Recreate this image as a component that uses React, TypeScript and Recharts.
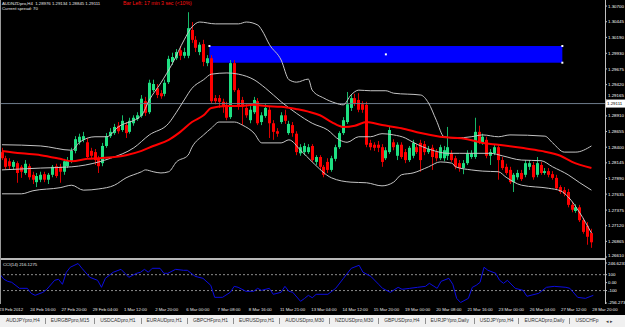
import React from 'react';
import { ComposedChart, Bar, Line, XAxis, YAxis, ReferenceArea, ReferenceLine } from 'recharts';

const FONT = '"Liberation Sans", Arial, sans-serif';
const SLOTS = 156;

const timeLabels = [
  '23 Feb 2012', '24 Feb 16:00', '27 Feb 20:00', '29 Feb 04:00', '1 Mar 12:00', '2 Mar 20:00',
  '6 Mar 00:00', '7 Mar 08:00', '8 Mar 16:00', '11 Mar 21:00', '13 Mar 04:00', '14 Mar 12:00',
  '15 Mar 20:00', '19 Mar 00:00', '20 Mar 08:00', '21 Mar 16:00', '23 Mar 00:00', '26 Mar 04:00',
  '27 Mar 12:00', '28 Mar 20:00',
];

const opens = [
  1.2832, 1.2822, 1.2817, 1.2808, 1.2814, 1.2808, 1.2798, 1.2809, 1.2795, 1.2783,
  1.2787, 1.2796, 1.2787, 1.2795, 1.2809, 1.2808, 1.2800, 1.2809, 1.2817, 1.2834,
  1.2848, 1.2852, 1.2848, 1.2834, 1.2832, 1.2821, 1.2814, 1.2842, 1.2858, 1.2863,
  1.2875, 1.2868, 1.2876, 1.2865, 1.2879, 1.2886, 1.2891, 1.2915, 1.2897, 1.2933,
  1.2936, 1.2928, 1.2927, 1.2946, 1.2979, 1.2985, 1.2998, 1.2989, 1.2989, 1.3031,
  1.3015, 1.2995, 1.3008, 1.2977, 1.2985, 1.2920, 1.2920, 1.2914, 1.2909, 1.2889,
  1.2977, 1.2933, 1.2917, 1.2904, 1.2884, 1.2897, 1.2915, 1.2881, 1.2891, 1.2901,
  1.2879, 1.2866, 1.2881, 1.2892, 1.2863, 1.2876, 1.2862, 1.2830, 1.2832, 1.2832,
  1.2842, 1.2816, 1.2824, 1.2808, 1.2816, 1.2803, 1.2821, 1.2840, 1.2863, 1.2881,
  1.2904, 1.2920, 1.2917, 1.2910, 1.2909, 1.2847, 1.2844, 1.2844, 1.2840, 1.2822,
  1.2832, 1.2848, 1.2826, 1.2844, 1.2832, 1.2819, 1.2826, 1.2840, 1.2847, 1.2845,
  1.2832, 1.2839, 1.2832, 1.2822, 1.2822, 1.2826, 1.2830, 1.2822, 1.2814, 1.2806,
  1.2814, 1.2824, 1.2824, 1.2865, 1.2847, 1.2852, 1.2826, 1.2830, 1.2840, 1.2819,
  1.2808, 1.2803, 1.2783, 1.2791, 1.2798, 1.2795, 1.2808, 1.2811, 1.2795, 1.2811,
  1.2798, 1.2801, 1.2796, 1.2790, 1.2775, 1.2770, 1.2767, 1.2746, 1.2736, 1.2742,
  1.2721, 1.2712, 1.2700,
];

const highs = [
  1.2839, 1.2826, 1.2822, 1.2819, 1.2817, 1.2811, 1.2819, 1.2813, 1.2800, 1.2798,
  1.2800, 1.2800, 1.2798, 1.2811, 1.2813, 1.2813, 1.2821, 1.2824, 1.2839, 1.2858,
  1.2862, 1.2865, 1.2855, 1.2839, 1.2837, 1.2826, 1.2847, 1.2863, 1.2871, 1.2878,
  1.2881, 1.2892, 1.2881, 1.2888, 1.2892, 1.2897, 1.2925, 1.2922, 1.2950, 1.2950,
  1.2943, 1.2933, 1.2950, 1.2989, 1.2994, 1.3000, 1.3005, 1.3002, 1.3060, 1.3044,
  1.3021, 1.3011, 1.3015, 1.2990, 1.2990, 1.2925, 1.2925, 1.2919, 1.2914, 1.2982,
  1.2982, 1.2936, 1.2922, 1.2910, 1.2907, 1.2922, 1.2920, 1.2897, 1.2910, 1.2906,
  1.2884, 1.2871, 1.2897, 1.2901, 1.2883, 1.2881, 1.2866, 1.2845, 1.2847, 1.2845,
  1.2845, 1.2827, 1.2827, 1.2811, 1.2822, 1.2826, 1.2844, 1.2866, 1.2889, 1.2930,
  1.2925, 1.2927, 1.2928, 1.2915, 1.2914, 1.2852, 1.2848, 1.2850, 1.2845, 1.2840,
  1.2873, 1.2853, 1.2848, 1.2848, 1.2837, 1.2842, 1.2852, 1.2845, 1.2852, 1.2850,
  1.2842, 1.2844, 1.2837, 1.2844, 1.2842, 1.2873, 1.2835, 1.2826, 1.2819, 1.2819,
  1.2835, 1.2835, 1.2888, 1.2875, 1.2862, 1.2857, 1.2837, 1.2845, 1.2844, 1.2824,
  1.2813, 1.2808, 1.2798, 1.2803, 1.2803, 1.2819, 1.2819, 1.2816, 1.2824, 1.2816,
  1.2806, 1.2806, 1.2801, 1.2795, 1.2778, 1.2775, 1.2772, 1.2751, 1.2747, 1.2746,
  1.2725, 1.2718, 1.2707,
];

const lows = [
  1.2819, 1.2804, 1.2803, 1.2803, 1.2782, 1.2790, 1.2795, 1.2787, 1.2780, 1.2775,
  1.2783, 1.2783, 1.2780, 1.2791, 1.2790, 1.2782, 1.2795, 1.2806, 1.2814, 1.2830,
  1.2844, 1.2848, 1.2821, 1.2822, 1.2811, 1.2798, 1.2809, 1.2839, 1.2855, 1.2860,
  1.2862, 1.2865, 1.2855, 1.2862, 1.2875, 1.2883, 1.2888, 1.2891, 1.2894, 1.2930,
  1.2920, 1.2919, 1.2923, 1.2943, 1.2974, 1.2982, 1.2982, 1.2985, 1.2985, 1.3010,
  1.2995, 1.2990, 1.2972, 1.2972, 1.2912, 1.2910, 1.2904, 1.2896, 1.2884, 1.2886,
  1.2930, 1.2901, 1.2876, 1.2888, 1.2879, 1.2894, 1.2876, 1.2876, 1.2888, 1.2855,
  1.2852, 1.2857, 1.2878, 1.2878, 1.2860, 1.2857, 1.2827, 1.2826, 1.2827, 1.2829,
  1.2816, 1.2811, 1.2803, 1.2791, 1.2798, 1.2800, 1.2817, 1.2837, 1.2860, 1.2878,
  1.2899, 1.2907, 1.2897, 1.2896, 1.2840, 1.2835, 1.2834, 1.2832, 1.2808, 1.2819,
  1.2829, 1.2835, 1.2819, 1.2821, 1.2814, 1.2816, 1.2822, 1.2829, 1.2800, 1.2827,
  1.2829, 1.2803, 1.2817, 1.2819, 1.2817, 1.2819, 1.2816, 1.2804, 1.2800, 1.2796,
  1.2811, 1.2821, 1.2821, 1.2845, 1.2844, 1.2822, 1.2811, 1.2827, 1.2787, 1.2803,
  1.2795, 1.2780, 1.2767, 1.2787, 1.2785, 1.2791, 1.2803, 1.2787, 1.2791, 1.2795,
  1.2795, 1.2791, 1.2787, 1.2770, 1.2764, 1.2760, 1.2742, 1.2734, 1.2733, 1.2718,
  1.2699, 1.2681, 1.2676,
];

const closes = [
  1.2822, 1.2808, 1.2809, 1.2816, 1.2798, 1.2800, 1.2813, 1.2791, 1.2787, 1.2793,
  1.2795, 1.2787, 1.2795, 1.2808, 1.2793, 1.2800, 1.2817, 1.2819, 1.2834, 1.2853,
  1.2857, 1.2858, 1.2824, 1.2826, 1.2819, 1.2809, 1.2842, 1.2858, 1.2865, 1.2873,
  1.2866, 1.2883, 1.2863, 1.2883, 1.2888, 1.2892, 1.2919, 1.2896, 1.2945, 1.2943,
  1.2925, 1.2923, 1.2945, 1.2984, 1.2987, 1.2995, 1.2989, 1.2995, 1.3034, 1.3015,
  1.3002, 1.3007, 1.2979, 1.2985, 1.2915, 1.2915, 1.2914, 1.2906, 1.2888, 1.2977,
  1.2933, 1.2906, 1.2906, 1.2892, 1.2901, 1.2917, 1.2879, 1.2892, 1.2904, 1.2879,
  1.2865, 1.2862, 1.2892, 1.2883, 1.2878, 1.2863, 1.2832, 1.2840, 1.2842, 1.2840,
  1.2819, 1.2824, 1.2808, 1.2795, 1.2803, 1.2822, 1.2840, 1.2863, 1.2884, 1.2910,
  1.2920, 1.2912, 1.2901, 1.2901, 1.2844, 1.2840, 1.2839, 1.2839, 1.2816, 1.2835,
  1.2868, 1.2840, 1.2844, 1.2824, 1.2819, 1.2839, 1.2847, 1.2832, 1.2819, 1.2832,
  1.2837, 1.2824, 1.2822, 1.2840, 1.2835, 1.2840, 1.2819, 1.2808, 1.2806, 1.2814,
  1.2830, 1.2830, 1.2865, 1.2848, 1.2857, 1.2826, 1.2832, 1.2840, 1.2819, 1.2806,
  1.2798, 1.2783, 1.2795, 1.2798, 1.2788, 1.2814, 1.2814, 1.2791, 1.2814, 1.2798,
  1.2801, 1.2795, 1.2790, 1.2773, 1.2767, 1.2764, 1.2746, 1.2738, 1.2742, 1.2721,
  1.2702, 1.2694, 1.2685,
];

// Bollinger bands and moving average, read at selected bars: [bar index, price]
const upperBand: [number, number][] = [
  [0, 1.2844], [10, 1.2842], [18, 1.2835], [20, 1.2848], [24, 1.2857], [27, 1.2857], [30, 1.2873],
  [36, 1.2892], [38, 1.2917], [41, 1.2945], [44, 1.2977], [47, 1.3015], [49, 1.3036], [51, 1.3044],
  [55, 1.3041], [61, 1.3041], [63, 1.3044], [66, 1.3039], [67, 1.3031], [69, 1.3007], [72, 1.2982],
  [74, 1.2950], [76, 1.2946], [79, 1.2951], [80, 1.2933], [83, 1.2920], [86, 1.2912], [88, 1.2909],
  [90, 1.2925], [92, 1.2933], [95, 1.2932], [99, 1.2932], [101, 1.2928], [108, 1.2925], [110, 1.2912],
  [112, 1.2884], [114, 1.2857], [117, 1.2855], [121, 1.2857], [124, 1.2860], [128, 1.2857],
  [131, 1.2860], [140, 1.2858], [142, 1.2847], [145, 1.2832], [148, 1.2832], [152, 1.2842],
];
const middleBand: [number, number][] = [
  [0, 1.2803], [10, 1.2806], [18, 1.2808], [25, 1.2816], [28, 1.2822], [34, 1.2839], [38, 1.2860],
  [43, 1.2879], [45, 1.2897], [47, 1.2917], [49, 1.2936], [52, 1.2950], [54, 1.2959], [58, 1.2961],
  [61, 1.2959], [65, 1.2950], [68, 1.2936], [72, 1.2914], [76, 1.2895], [80, 1.2879], [84, 1.2868],
  [87, 1.2852], [89, 1.2848], [92, 1.2857], [95, 1.2857], [98, 1.2862], [101, 1.2860], [104, 1.2855],
  [106, 1.2848], [111, 1.2835], [115, 1.2830], [118, 1.2830], [122, 1.2830], [126, 1.2830],
  [129, 1.2826], [134, 1.2819], [139, 1.2818], [142, 1.2808], [146, 1.2795], [149, 1.2782], [152, 1.2770],
];
const lowerBand: [number, number][] = [
  [0, 1.2764], [5, 1.2764], [8, 1.2769], [15, 1.2774], [18, 1.2778], [21, 1.2770], [25, 1.2772],
  [29, 1.2778], [32, 1.2790], [36, 1.2800], [37, 1.2803], [39, 1.2800], [41, 1.2798], [43, 1.2800],
  [45, 1.2816], [48, 1.2827], [49, 1.2840], [52, 1.2860], [54, 1.2871], [56, 1.2881], [60, 1.2881],
  [62, 1.2876], [65, 1.2863], [67, 1.2847], [72, 1.2847], [74, 1.2852], [77, 1.2835], [80, 1.2816],
  [85, 1.2790], [90, 1.2783], [94, 1.2782], [98, 1.2777], [101, 1.2783], [103, 1.2795], [106, 1.2798],
  [110, 1.2808], [113, 1.2816], [116, 1.2814], [117, 1.2808], [121, 1.2803], [124, 1.2801],
  [128, 1.2800], [130, 1.2791], [134, 1.2778], [141, 1.2773], [144, 1.2769], [146, 1.2759],
  [149, 1.2733], [152, 1.2700],
];
const maLine: [number, number][] = [
  [0, 1.2834], [5, 1.2830], [10, 1.2827], [15, 1.2821], [18, 1.2817], [22, 1.2821], [25, 1.2822],
  [29, 1.2824], [32, 1.2827], [36, 1.2834], [39, 1.2842], [43, 1.2852], [46, 1.2865], [49, 1.2881],
  [52, 1.2892], [54, 1.2904], [58, 1.2907], [61, 1.2907], [65, 1.2909], [68, 1.2907], [72, 1.2906],
  [76, 1.2902], [79, 1.2898], [82, 1.2892], [85, 1.2881], [88, 1.2873], [91, 1.2875], [94, 1.2881],
  [98, 1.2876], [103, 1.2871], [108, 1.2863], [113, 1.2857], [120, 1.2853], [124, 1.2847],
  [128, 1.2844], [134, 1.2839], [139, 1.2834], [144, 1.2826], [147, 1.2816], [152, 1.2806],
];
// CCI(14) read at selected bars: [bar index, value]
const cciLine: [number, number][] = [
  [0, 104], [1, 42], [2, 16], [3, 4], [5, -72], [7, -72], [8, -135], [9, -160], [11, -122], [12, -84],
  [14, 29], [15, 42], [16, -21], [17, 130], [18, 193], [20, 240], [21, 180], [23, 67], [25, 29],
  [26, -59], [27, 54], [29, 130], [31, 167], [33, 67], [35, 117], [36, 130], [37, 167], [38, 130],
  [39, 180], [41, 180], [42, 117], [43, 117], [45, 167], [47, 155], [48, 155], [50, 79], [52, 54],
  [54, -34], [55, -185], [57, -185], [59, -122], [60, -47], [61, -59], [63, -109], [65, -109],
  [66, -72], [67, -97], [69, -72], [70, -147], [72, -122], [73, -47], [74, -109], [75, -122],
  [77, -235], [78, -200], [79, -160], [80, -190], [81, -147], [84, -147], [86, -72], [88, 54],
  [90, 180], [92, 218], [93, 130], [95, 79], [97, -21], [98, -72], [100, -122], [102, -59],
  [103, -84], [105, -72], [107, -59], [109, -47], [110, -9], [112, -72], [113, 16], [115, 54],
  [116, -21], [117, -198], [118, -250], [120, -198], [121, -59], [122, -34], [123, 4], [124, 193],
  [125, 155], [127, 117], [128, 29], [129, -9], [130, 29], [132, -72], [134, -97], [135, -172],
  [138, -135], [140, -59], [142, -47], [145, -59], [146, -72], [148, -185], [150, -198], [152, -160],
];

const priceTicks = [
  1.307, 1.30445, 1.3019, 1.2993, 1.29675, 1.2942, 1.29165, 1.2891, 1.28655, 1.284,
  1.28145, 1.2789, 1.27635, 1.27375, 1.2712, 1.26865, 1.2661,
];
const priceDomain = [1.26594, 1.30799];
const cciTicks = [246.6237, 100, 0, -100, -256.273];
const cciTickText = ['246.6237', '100', '0.00', '-100', '-256.273'];
const cciDomain = [-256.273, 246.6237];
const bidPrice = 1.29111;
const zoneBars = [54, 144];
const zonePrices = [1.29777, 1.30049];

const tabs = [
  'AUDJPYpro,H4', 'EURGBPpro,M15', 'USDCADpro,H1', 'EURAUDpro,H1', 'GBPCHFpro,H1', 'EURUSDpro,H1',
  'AUDUSDpro,M30', 'NZDUSDpro,M30', 'GBPUSDpro,H4', 'EURJPYpro,Daily', 'USDJPYpro,H4',
  'EURCADpro,Daily', 'USDCHFp',
];

const MAIN_PLOT_H = 258;
const UP = '#1ee082';
const UP_WICK = '#16b868';
const DOWN = '#ff0000';
const DOWN_WICK = '#d80000';

const toMap = (pts: [number, number][]) => new Map(pts);
const upM = toMap(upperBand), midM = toMap(middleBand), loM = toMap(lowerBand), maM = toMap(maLine), cciM = toMap(cciLine);

const rows = Array.from({ length: SLOTS }, (_, i) => {
  const has = i < opens.length;
  return {
    i,
    o: has ? opens[i] : null,
    h: has ? highs[i] : null,
    l: has ? lows[i] : null,
    c: has ? closes[i] : null,
    range: has ? [lows[i], highs[i]] : null,
    upper: upM.get(i) ?? null,
    middle: midM.get(i) ?? null,
    lower: loM.get(i) ?? null,
    ma: maM.get(i) ?? null,
    cci: cciM.get(i) ?? null,
  };
});

const timeTickIdx = timeLabels.map((_, k) => k * 8);

const Candle = (props: any) => {
  const { x, y, width, height, payload } = props;
  if (!payload || payload.o == null || x == null) return <g />;
  const top = Math.min(y, y + height);
  const span = Math.abs(height);
  const { o, h, l, c } = payload;
  const rng = h - l;
  const toY = (v: number) => top + (rng > 0 ? ((h - v) / rng) * span : 0);
  const cx = Math.round(x + width / 2);
  const up = c >= o;
  const yT = toY(Math.max(o, c));
  const yB = toY(Math.min(o, c));
  return (
    <g>
      <line x1={cx + 0.5} x2={cx + 0.5} y1={top} y2={top + span} stroke={up ? UP_WICK : DOWN_WICK} strokeWidth={1} />
      <rect x={cx - 1} y={yT} width={3} height={Math.max(1, yB - yT)} fill={up ? UP : DOWN} />
    </g>
  );
};

const ZoneShape = (props: any) => {
  const { x, y, width, height } = props;
  if (x == null) return <g />;
  const dot = (dx: number, dy: number, k: string) => (
    <rect key={k} x={dx - 1} y={dy - 1} width={2} height={2} fill="#ffffff" />
  );
  return (
    <g>
      <rect x={x} y={y} width={width} height={height} fill="#0000ff" />
      {dot(x, y, 'a')}
      {dot(x + width, y, 'b')}
      {dot(x + width, y + height, 'c')}
      {dot(x + width / 2, y + height / 2, 'd')}
    </g>
  );
};

const BidLabel = (props: any) => {
  const vb = props.viewBox || {};
  const x = (vb.x ?? 0) + (vb.width ?? 0) + 1;
  const y = vb.y ?? 0;
  return (
    <g>
      <rect x={x} y={y - 4} width={19} height={8} fill="#ffffff" />
      <text x={x + 1} y={y} dy="0.35em" fontSize={4.4} fontFamily={FONT} fill="#000000">
        {bidPrice.toFixed(5)}
      </text>
    </g>
  );
};

// right-hand scale tick: short mark plus label kept inside the pane and clear of the bid box
const makeScaleTick = (fmt: (v: number) => string, minY: number, maxY: number, avoid?: { value: number; pxPerUnit: number }) =>
  (props: any) => {
    const { x, y, payload } = props;
    let ty = Math.max(minY, Math.min(maxY, y));
    if (avoid) {
      const boxY = y + (payload.value - avoid.value) * avoid.pxPerUnit;
      if (Math.abs(boxY - ty) < 8) ty = ty <= boxY ? boxY - 8 : boxY + 8;
    }
    return (
      <g>
        <line x1={x - 3} x2={x - 1} y1={y} y2={y} stroke="#c0c0c0" strokeWidth={1} />
        <text x={x} y={ty} dy="0.35em" textAnchor="start" fontSize={4.4} fontFamily={FONT} fill="#ffffff">
          {fmt(payload.value)}
        </text>
      </g>
    );
  };

const PriceTick = makeScaleTick((v) => v.toFixed(5), 3, 255, {
  value: bidPrice,
  pxPerUnit: MAIN_PLOT_H / (priceDomain[1] - priceDomain[0]),
});
const CciTick = makeScaleTick((v) => cciTickText[cciTicks.indexOf(v)] ?? String(v), 3, 42);

const TimeTick = (props: any) => {
  const { x, y, payload } = props;
  const label = timeLabels[Math.round(payload.value / 8)];
  return (
    <text x={x - 1} y={y + 6.5} dy="0.35em" textAnchor="start" fontSize={4.3} fontFamily={FONT} fill="#e8e8e8">
      {label}
    </text>
  );
};

export default function App() {
  return (
    <div style={{ position: 'fixed', left: 0, top: 0, width: 625, height: 327, background: '#000', overflow: 'hidden', fontFamily: FONT }}>
      {/* main price window */}
      <div style={{ position: 'absolute', left: 0, top: 0 }}>
        <ComposedChart width={625} height={MAIN_PLOT_H + 4} data={rows} margin={{ top: 0, right: 0, bottom: 4, left: 0 }}>
          <XAxis dataKey="i" type="category" hide />
          <YAxis
            orientation="right"
            width={20}
            domain={priceDomain}
            ticks={priceTicks}
            interval={0}
            allowDataOverflow
            axisLine={false}
            tickLine={false}
            tickSize={3}
            tickMargin={0}
            tick={PriceTick}
          />
          <ReferenceArea x1={zoneBars[0]} x2={zoneBars[1]} y1={zonePrices[0]} y2={zonePrices[1]} shape={ZoneShape} ifOverflow="visible" zIndex={-50} />
          <ReferenceLine y={bidPrice} stroke="#6e7c8c" strokeWidth={1} label={BidLabel} />
          <Bar dataKey="range" barSize={3} shape={Candle} isAnimationActive={false} />
          <Line dataKey="upper" type="monotone" stroke="#c4c4c4" strokeWidth={1} dot={false} activeDot={false} connectNulls isAnimationActive={false} />
          <Line dataKey="middle" type="monotone" stroke="#c4c4c4" strokeWidth={1} dot={false} activeDot={false} connectNulls isAnimationActive={false} />
          <Line dataKey="lower" type="monotone" stroke="#c4c4c4" strokeWidth={1} dot={false} activeDot={false} connectNulls isAnimationActive={false} />
          <Line dataKey="ma" type="monotone" stroke="#ff0000" strokeWidth={2} dot={false} activeDot={false} connectNulls isAnimationActive={false} />
        </ComposedChart>
      </div>

      {/* CCI window */}
      <div style={{ position: 'absolute', left: 0, top: 260 }}>
        <ComposedChart width={625} height={55} data={rows} margin={{ top: 3, right: 0, bottom: 0, left: 0 }}>
          <XAxis
            dataKey="i"
            type="category"
            ticks={timeTickIdx}
            interval={0}
            axisLine={false}
            tickLine={false}
            tickSize={0}
            tickMargin={0}
            height={12}
            tick={TimeTick}
          />
          <YAxis
            orientation="right"
            width={20}
            domain={cciDomain}
            ticks={cciTicks}
            interval={0}
            allowDataOverflow
            axisLine={false}
            tickLine={false}
            tickSize={3}
            tickMargin={0}
            tick={CciTick}
          />
          <ReferenceLine y={100} stroke="#8a8a8a" strokeDasharray="2 2" />
          <ReferenceLine y={-100} stroke="#8a8a8a" strokeDasharray="2 2" />
          <Line dataKey="cci" type="linear" stroke="#0c0ce0" strokeWidth={1} dot={false} activeDot={false} connectNulls isAnimationActive={false} />
        </ComposedChart>
      </div>

      {/* frame lines */}
      <div style={{ position: 'absolute', left: 0, top: 258, width: 606, height: 2, background: '#b8b8b8' }} />
      <div style={{ position: 'absolute', left: 605, top: 0, width: 1, height: 304, background: '#c0c0c0' }} />
      <div style={{ position: 'absolute', left: 0, top: 0, width: 1, height: 304, background: '#9a9a9a' }} />

      {/* header texts */}
      <div style={{ position: 'absolute', left: 2, top: 1, fontSize: 4.3, lineHeight: '5px', color: '#e8e8e8', whiteSpace: 'pre' }}>
        {'AUDNZDpro,H4  1.28976 1.29134 1.28845 1.29111'}
      </div>
      <div style={{ position: 'absolute', left: 2, top: 6, fontSize: 4.3, lineHeight: '5px', color: '#e8e8e8', whiteSpace: 'pre' }}>
        {'Current spread: 70'}
      </div>
      <div style={{ position: 'absolute', left: 123, top: 1, fontSize: 5.2, lineHeight: '5px', color: '#ff1010', whiteSpace: 'pre' }}>
        {'Bar Left: 17 min 3 sec (<10%)'}
      </div>
      <div style={{ position: 'absolute', left: 3, top: 262, fontSize: 4.3, lineHeight: '5px', color: '#e8e8e8', whiteSpace: 'pre' }}>
        {'CCI(14) 216.1275'}
      </div>

      {/* symbol tabs */}
      <div style={{ position: 'absolute', left: 0, top: 315, width: 625, height: 12, background: '#f0f0f0', display: 'flex', alignItems: 'center', fontSize: 4.9, color: '#303030', whiteSpace: 'nowrap', paddingLeft: 1, boxSizing: 'border-box' }}>
        {tabs.map((t, k) => (
          <span key={t} style={{ padding: '0 5px', borderLeft: k === 0 ? 'none' : '1px solid #909090', lineHeight: '6px' }}>{t}</span>
        ))}
        <span style={{ position: 'absolute', left: 606, fontSize: 5, color: '#404040' }}>{'◂ ▸'}</span>
      </div>
    </div>
  );
}
